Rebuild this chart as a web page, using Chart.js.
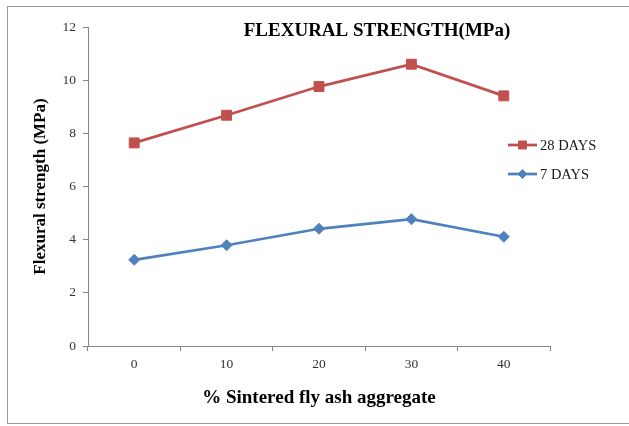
<!DOCTYPE html>
<html>
<head>
<meta charset="utf-8">
<script src="https://cdn.jsdelivr.net/npm/chart.js@4/dist/chart.umd.min.js"></script>
<style>
  html, body { margin: 0; padding: 0; background: #fff; overflow: hidden; }
  #wrap { position: relative; width: 629px; height: 426px; }
  #frame { position: absolute; left: 7px; top: 6px; width: 660px; height: 416px; border: 1.5px solid #9a9a9a; box-sizing: content-box; }
  canvas { position: absolute; left: 0; top: 0; }
</style>
</head>
<body>
<div id="wrap">
  <div id="frame"></div>
  <canvas id="c" width="629" height="426"></canvas>
</div>
<script>
const categories = ['0', '10', '20', '30', '40'];
const days28 = [7.64, 8.68, 9.76, 10.60, 9.41];
const days7 = [3.24, 3.79, 4.41, 4.77, 4.11];
const seriesNames = ['28 DAYS', '7 DAYS'];
const yMin = 0, yMax = 12, yStep = 2;
const chartTitle = 'FLEXURAL STRENGTH(MPa)';
const xTitle = '% Sintered fly ash aggregate';
const yTitle = 'Flexural strength (MPa)';

const SERIF = '"Liberation Serif", "DejaVu Serif", serif';

const titlePlugin = {
  id: 'customTitle',
  afterDraw(chart) {
    const ctx = chart.ctx;
    ctx.save();
    ctx.font = 'bold 19px ' + SERIF;
    ctx.fillStyle = '#000';
    ctx.textAlign = 'center';
    ctx.textBaseline = 'middle';
    ctx.fillText(chartTitle, 377, 31);
    ctx.restore();
  }
};

const legendPlugin = {
  id: 'customLegend',
  afterDraw(chart) {
    const ctx = chart.ctx;
    const x0 = 508, x1 = 537, tx = 540;
    const rows = [145, 174];
    chart.data.datasets.forEach((ds, i) => {
      const y = rows[i];
      ctx.save();
      ctx.strokeStyle = ds.borderColor;
      ctx.lineWidth = ds.borderWidth;
      ctx.beginPath();
      ctx.moveTo(x0, y);
      ctx.lineTo(x1, y);
      ctx.stroke();
      ctx.fillStyle = ds.pointBackgroundColor;
      ctx.strokeStyle = ds.pointBorderColor;
      ctx.lineWidth = 1;
      Chart.helpers.drawPoint(ctx, {
        pointStyle: ds.pointStyle,
        radius: ds.pointRadius * 0.8,
        borderWidth: 1,
        rotation: 0
      }, (x0 + x1) / 2, y);
      ctx.font = '14.5px ' + SERIF;
      ctx.fillStyle = '#1a1a1a';
      ctx.textAlign = 'left';
      ctx.textBaseline = 'middle';
      ctx.fillText(ds.label, tx, y + 1);
      ctx.restore();
    });
  }
};

new Chart(document.getElementById('c'), {
  type: 'line',
  data: {
    labels: categories,
    datasets: [
      {
        label: seriesNames[0],
        data: days28,
        borderColor: '#C0504D',
        backgroundColor: '#C0504D',
        pointBackgroundColor: '#C0504D',
        pointBorderColor: '#C0504D',
        pointStyle: 'rect',
        pointRadius: 7,
        pointBorderWidth: 1,
        borderWidth: 2.75,
        tension: 0
      },
      {
        label: seriesNames[1],
        data: days7,
        borderColor: '#4F81BD',
        backgroundColor: '#4F81BD',
        pointBackgroundColor: '#4F81BD',
        pointBorderColor: '#4F81BD',
        pointStyle: 'rectRot',
        pointRadius: 5.5,
        pointBorderWidth: 1,
        borderWidth: 2.75,
        tension: 0
      }
    ]
  },
  options: {
    responsive: false,
    animation: false,
    layout: { padding: { left: 0, right: 79, top: 27, bottom: 0 } },
    plugins: {
      legend: { display: false },
      title: { display: false },
      tooltip: { enabled: false }
    },
    scales: {
      x: {
        type: 'category',
        offset: true,
        grid: {
          offset: true,
          drawOnChartArea: false,
          drawTicks: true,
          tickLength: 5,
          color: '#868686'
        },
        border: { color: '#868686', width: 1 },
        ticks: {
          font: { family: SERIF, size: 13.5 },
          color: '#333',
          padding: 5,
          maxRotation: 0
        },
        title: {
          display: true,
          text: xTitle,
          font: { family: SERIF, size: 19, weight: 'bold' },
          color: '#000',
          padding: { top: 0, bottom: 17 }
        },
        afterFit(scale) { scale.height = 80; }
      },
      y: {
        min: yMin,
        max: yMax,
        ticks: {
          stepSize: yStep,
          font: { family: SERIF, size: 13.5 },
          color: '#333',
          padding: 7
        },
        grid: {
          drawOnChartArea: false,
          drawTicks: true,
          tickLength: 5,
          color: '#868686'
        },
        border: { color: '#868686', width: 1 },
        title: {
          display: true,
          text: yTitle,
          font: { family: SERIF, size: 17, weight: 'bold' },
          color: '#000',
          padding: { top: 30, bottom: 0 }
        },
        afterFit(scale) { scale.width = 88; }
      }
    }
  },
  plugins: [titlePlugin, legendPlugin]
});
</script>
</body>
</html>
